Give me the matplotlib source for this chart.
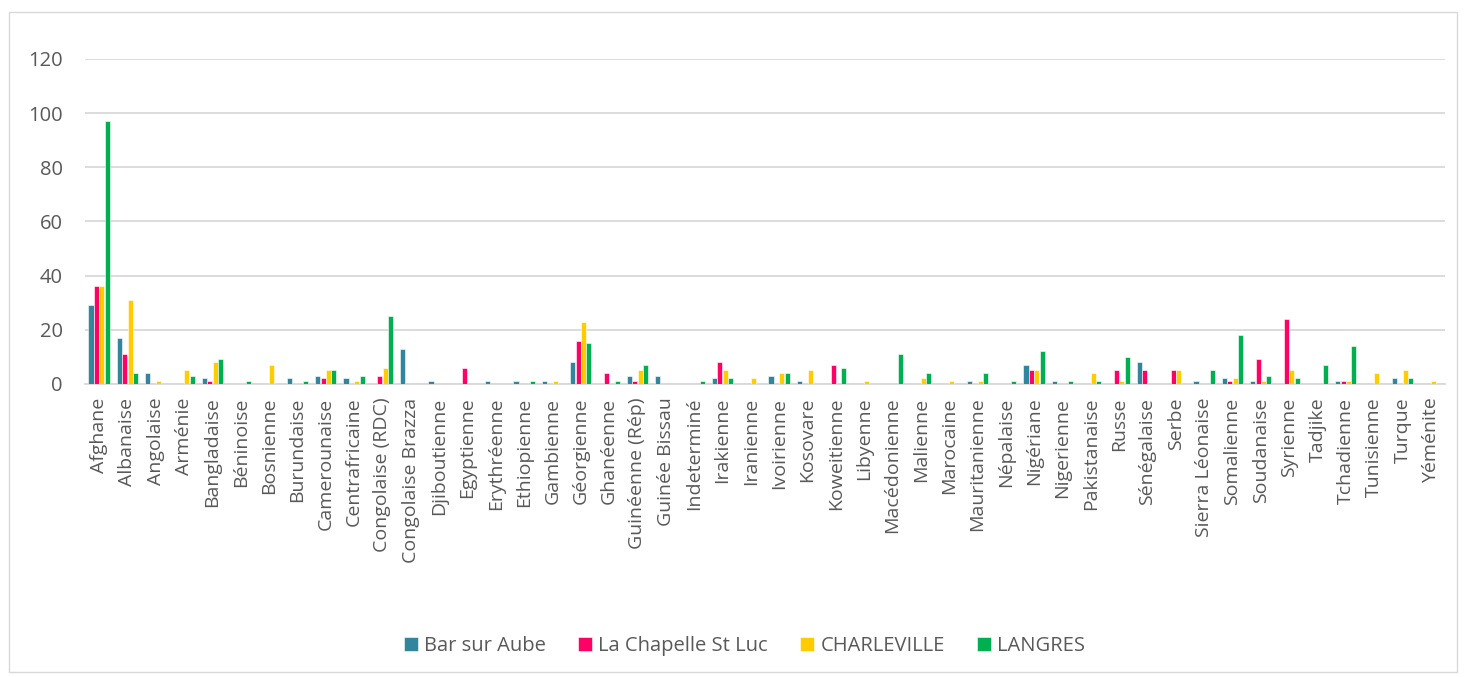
import matplotlib.pyplot as plt
import matplotlib.patches as mpatches
import numpy as np

plt.rcParams['font.family'] = ['Open Sans', 'DejaVu Sans']

# Categories (nationalités)
categories = [
    'Afghane', 'Albanaise', 'Angolaise', 'Arménie', 'Bangladaise', 'Béninoise',
    'Bosnienne', 'Burundaise', 'Camerounaise', 'Centrafricaine', 'Congolaise (RDC)',
    'Congolaise Brazza', 'Djiboutienne', 'Egyptienne', 'Erythréenne', 'Ethiopienne',
    'Gambienne', 'Géorgienne', 'Ghanéenne', 'Guinéenne (Rép)', 'Guinée Bissau',
    'Indeterminé', 'Irakienne', 'Iranienne', 'Ivoirienne', 'Kosovare', 'Koweitienne',
    'Libyenne', 'Macédonienne', 'Malienne', 'Marocaine', 'Mauritanienne', 'Népalaise',
    'Nigériane', 'Nigerienne', 'Pakistanaise', 'Russe', 'Sénégalaise', 'Serbe',
    'Sierra Léonaise', 'Somalienne', 'Soudanaise', 'Syrienne', 'Tadjike', 'Tchadienne',
    'Tunisienne', 'Turque', 'Yéménite',
]

bar_sur_aube = [29, 17, 4, 0, 2, 0, 0, 2, 3, 2, 0, 13, 1, 0, 1, 1, 1, 8, 0, 3, 3, 0,
                2, 0, 3, 1, 0, 0, 0, 0, 0, 1, 0, 7, 1, 0, 0, 8, 0, 1, 2, 1, 0, 0, 1,
                0, 2, 0]
la_chapelle = [36, 11, 0, 0, 1, 0, 0, 0, 2, 0, 3, 0, 0, 6, 0, 0, 0, 16, 4, 1, 0, 0,
               8, 0, 0, 0, 7, 0, 0, 0, 0, 0, 0, 5, 0, 0, 5, 5, 5, 0, 1, 9, 24, 0, 1,
               0, 0, 0]
charleville = [36, 31, 1, 5, 8, 0, 7, 0, 5, 1, 6, 0, 0, 0, 0, 0, 1, 23, 0, 5, 0, 0,
               5, 2, 4, 5, 0, 1, 0, 2, 1, 1, 0, 5, 0, 4, 1, 0, 5, 0, 2, 1, 5, 0, 1,
               4, 5, 1]
langres = [97, 4, 0, 3, 9, 1, 0, 1, 5, 3, 25, 0, 0, 0, 0, 1, 0, 15, 1, 7, 0, 1,
           2, 0, 4, 0, 6, 0, 11, 4, 0, 4, 1, 12, 1, 1, 10, 0, 0, 5, 18, 3, 2, 7, 14,
           0, 2, 0]

series = [
    ('Bar sur Aube', bar_sur_aube, '#31859C'),
    ('La Chapelle St Luc', la_chapelle, '#FF0066'),
    ('CHARLEVILLE', charleville, '#FFCC00'),
    ('LANGRES', langres, '#00B050'),
]

fig = plt.figure(figsize=(14.64, 6.77), dpi=100)
ax = fig.add_axes([0.058, 0.433, 0.929, 0.48])

x = np.arange(len(categories))
w = 0.18
for i, (name, vals, col) in enumerate(series):
    ax.bar(x + (i - 1.5) * 0.19, vals, w, color=col, label=name,
           edgecolor='white', linewidth=0.4, zorder=3)

ax.set_xlim(-0.5, len(categories) - 0.5)
ax.set_ylim(0, 120)
ax.set_yticks(range(0, 121, 20))
ax.grid(axis='y', color='#D9D9D9', linewidth=1.3, zorder=0)
for s in ['top', 'right', 'left']:
    ax.spines[s].set_visible(False)
ax.spines['bottom'].set_color('#D9D9D9')
ax.spines['bottom'].set_linewidth(1.3)
ax.tick_params(axis='y', length=0, labelsize=14.5, labelcolor='#595959', pad=16)
ax.tick_params(axis='x', length=0, labelsize=14, labelcolor='#595959', pad=10)
ax.set_xticks(x)
ax.set_xticklabels(categories, rotation=90, ha='center', va='top')

# legend at the bottom of the chart area
ax.legend(loc='center', bbox_to_anchor=(0.485, -0.806), ncol=4, frameon=False,
          fontsize=14.5, labelcolor='#595959', handlelength=0.7, handleheight=0.7,
          columnspacing=1.6, handletextpad=0.3)

# chart area border
fig.patches.append(mpatches.Rectangle((0.006, 0.008), 0.989, 0.975, transform=fig.transFigure,
                                      fill=False, edgecolor='#D9D9D9', linewidth=1))

fig.savefig('out.png', dpi=100)
